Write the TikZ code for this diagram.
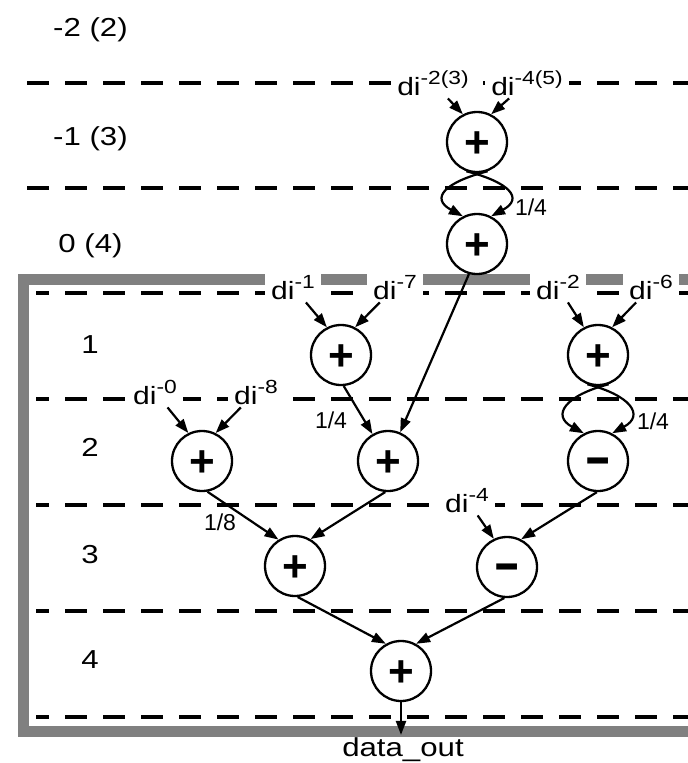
\documentclass[tikz,border=0pt]{standalone}
\usepackage{fontspec}
\setmainfont{Liberation Sans}[FakeStretch=1.2]
\newfontfamily\opfont{Liberation Sans}
\usetikzlibrary{arrows.meta}
\definecolor{boxgray}{HTML}{808080}
\newcommand\supr[1]{\raisebox{11pt}{\fontsize{19}{19}\selectfont #1}}
\newcommand\minussign{\scalebox{0.95}[1.4]{–}}
\tikzset{
  opnode/.style={circle, draw, line width=2.3pt, minimum size=60pt, inner sep=0pt,
    fill=white, font=\opfont\fontsize{44}{44}\selectfont\bfseries, text depth=0pt},
  plusop/.style={opnode, text height=31pt},
  minusop/.style={opnode, text height=32pt},
  lab/.style={fill=white, inner xsep=6pt, inner ysep=3pt, anchor=base,
    font=\fontsize{25}{30}\selectfont},
  rowlab/.style={anchor=base, inner sep=0pt, font=\fontsize{26}{30}\selectfont},
  fraclab/.style={inner sep=0pt, font=\opfont\fontsize{23}{28}\selectfont},
  conn/.style={line width=2.2pt, -{Triangle[length=14pt,width=10pt]}},
  hline/.style={line width=3.2pt, dash pattern=on 22pt off 16pt},
}
\begin{document}
\begin{tikzpicture}[x=1pt,y=-1pt]
\useasboundingbox (0,0) rectangle (688,763);
\clip (0,0) rectangle (688,763);
% grey frame
\draw[line width=11pt, boxgray, line join=miter] (700,279.5) -- (23.5,279.5) -- (23.5,731.5) -- (700,731.5);
% dashed row lines
\foreach \yy in {83,188} \draw[hline] (27,\yy) -- (688,\yy);
\foreach \yy in {293,399,505,611,717} \draw[hline, dash phase=9pt] (36,\yy) -- (688,\yy);
% row labels
\node[rowlab] (r0) at (90.5,36) {-2 (2)};
\node[rowlab] (r1) at (90.5,145) {-1 (3)};
\node[rowlab] (r2) at (90.5,252) {0 (4)};
\node[rowlab] (r3) at (90,353) {1};
\node[rowlab] (r4) at (90,456) {2};
\node[rowlab] (r5) at (90,563) {3};
\node[rowlab] (r6) at (90,668) {4};
% operators
\node[plusop] (A) at (477,142) {+};
\node[plusop] (B) at (477,244) {+};
\node[plusop] (C) at (341,355) {+};
\node[plusop] (D) at (598,355) {+};
\node[plusop] (E) at (202,461) {+};
\node[plusop] (F) at (388,461) {+};
\node[minusop] (G) at (598,461) {\minussign};
\node[plusop] (H) at (295,566) {+};
\node[minusop] (I) at (507,567) {\minussign};
\node[plusop] (J) at (401,671) {+};
% inputs
\node[lab] (l23) at (433,95) {di\supr{-2(3)}};
\node[lab] (l45) at (527,95) {di\supr{-4(5)}};
\node[lab] (l1) at (293,299) {di\supr{-1}};
\node[lab] (l7) at (395,299) {di\supr{-7}};
\node[lab] (l2) at (558,299) {di\supr{-2}};
\node[lab] (l6) at (651,299) {di\supr{-6}};
\node[lab] (l0) at (155,404) {di\supr{-0}};
\node[lab] (l8) at (256,404) {di\supr{-8}};
\node[lab] (l4) at (467,512) {di\supr{-4}};
% output
\node[rowlab, inner sep=2pt] (out) at (403,756) {data\_out};
% fraction labels
\node[fraclab] (q1) at (531,207) {1/4};
\node[fraclab] (q2) at (653,421) {1/4};
\node[fraclab] (q3) at (331,420) {1/4};
\node[fraclab] (q4) at (220,522) {1/8};
% input arrows
\draw[conn] (l23) -- (A.117);
\draw[conn] (l45) -- (A.63);
\draw[conn] (l1) -- (C.117);
\draw[conn] (l7) -- (C.63);
\draw[conn] (l2) -- (D.117);
\draw[conn] (l6) -- (D.63);
\draw[conn] (l0) -- (E.116);
\draw[conn] (l8) -- (E.64);
\draw[conn] (l4) -- (I.115);
% loops
\draw[conn] (A.-70) .. controls +(-43,11) and +(-33,-18) .. (B.117);
\draw[conn] (A.-110) .. controls +(43,11) and +(33,-18) .. (B.63);
\draw[conn] (D.-70) .. controls +(-43,11) and +(-33,-18) .. (G.117);
\draw[conn] (D.-110) .. controls +(43,11) and +(33,-18) .. (G.63);
% data flow
\draw[conn] (B.255) -- (F.67);
\draw[conn] (C.275) -- (F.120);
\draw[conn] (E.280) -- (H.122);
\draw[conn] (F.265) -- (H.60);
\draw[conn] (G.268) -- (I.63);
\draw[conn] (H.275) -- (J.119);
\draw[conn] (I.265) -- (J.61);
\draw[conn] (J.south) -- (J.south |- out.north);
\end{tikzpicture}
\end{document}
